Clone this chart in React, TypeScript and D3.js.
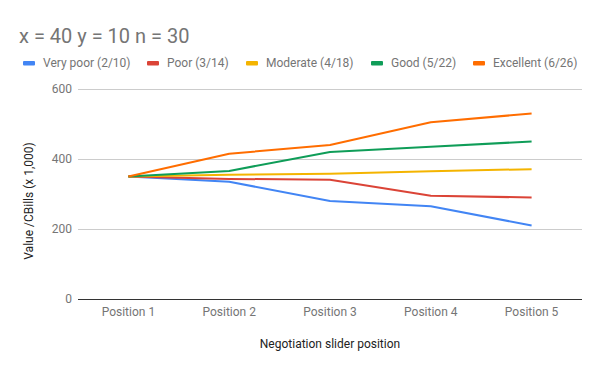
import React, { useEffect, useRef } from 'react';
import * as d3 from 'd3';

const positions = ['Position 1', 'Position 2', 'Position 3', 'Position 4', 'Position 5'];
const seriesNames = ['Very poor (2/10)', 'Poor (3/14)', 'Moderate (4/18)', 'Good (5/22)', 'Excellent (6/26)'];
const seriesColors = ['#4285F4', '#DB4437', '#F4B400', '#0F9D58', '#FF6D00'];
const veryPoor = [350, 335, 280, 265, 210];
const poor = [350, 343, 341, 295, 290];
const moderate = [350, 355, 358, 365, 371];
const good = [350, 366, 420, 435, 450];
const excellent = [350, 415, 440, 505, 530];
const yTicks = [0, 200, 400, 600];

const App: React.FC = () => {
  const ref = useRef<SVGSVGElement>(null);

  useEffect(() => {
    if (!ref.current) return;
    const width = 600;
    const height = 371;
    const margin = { top: 89, right: 18, bottom: 72, left: 78 };
    const font = 'Roboto, Arial, sans-serif';

    const svg = d3.select(ref.current);
    svg.selectAll('*').remove();

    const values = [veryPoor, poor, moderate, good, excellent];

    // point scale with half-step padding = centre of each category band
    const x = d3.scalePoint<string>()
      .domain(positions)
      .range([margin.left, width - margin.right])
      .padding(0.5);

    const y = d3.scaleLinear()
      .domain([0, 600])
      .range([height - margin.bottom, margin.top]);

    svg.append('rect').attr('width', width).attr('height', height).attr('fill', '#fff');

    // title
    svg.append('text')
      .attr('x', 19)
      .attr('y', 43)
      .attr('font-family', font)
      .attr('font-size', 20)
      .attr('fill', '#757575')
      .text('x = 40 y = 10 n = 30');

    // legend (hand placed like google charts does it)
    const legendX = [23, 147, 246, 371, 473];
    const legend = svg.append('g')
      .selectAll('g')
      .data(seriesNames)
      .join('g')
      .attr('transform', (d, i) => `translate(${legendX[i]},63)`);

    legend.append('rect')
      .attr('y', -2)
      .attr('width', 12)
      .attr('height', 4.5)
      .attr('rx', 1)
      .attr('fill', (d, i) => seriesColors[i]);

    legend.append('text')
      .attr('x', 20)
      .attr('dy', '0.35em')
      .attr('font-family', font)
      .attr('font-size', 12)
      .attr('fill', '#757575')
      .text(d => d);

    // grid
    svg.append('g')
      .selectAll('line')
      .data(yTicks.filter(t => t !== 0))
      .join('line')
      .attr('x1', margin.left)
      .attr('x2', width - margin.right)
      .attr('y1', d => Math.round(y(d)) + 0.5)
      .attr('y2', d => Math.round(y(d)) + 0.5)
      .attr('stroke', '#cccccc');

    svg.append('g')
      .selectAll('text')
      .data(yTicks)
      .join('text')
      .attr('x', margin.left - 6)
      .attr('y', d => y(d))
      .attr('dy', '0.35em')
      .attr('text-anchor', 'end')
      .attr('font-family', font)
      .attr('font-size', 12)
      .attr('fill', '#757575')
      .text(d => d);

    // lines
    const line = d3.line<number>()
      .x((d, i) => x(positions[i]) as number)
      .y(d => y(d));

    svg.append('g')
      .selectAll('path')
      .data(values)
      .join('path')
      .attr('fill', 'none')
      .attr('stroke', (d, i) => seriesColors[i])
      .attr('stroke-width', 2)
      .attr('stroke-linejoin', 'round')
      .attr('d', line);

    // baseline
    svg.append('line')
      .attr('x1', margin.left)
      .attr('x2', width - margin.right)
      .attr('y1', Math.round(y(0)) + 0.5)
      .attr('y2', Math.round(y(0)) + 0.5)
      .attr('stroke', '#333333');

    // x labels
    svg.append('g')
      .selectAll('text')
      .data(positions)
      .join('text')
      .attr('x', d => x(d) as number)
      .attr('y', height - margin.bottom + 17)
      .attr('text-anchor', 'middle')
      .attr('font-family', font)
      .attr('font-size', 12)
      .attr('fill', '#757575')
      .text(d => d);

    // axis titles
    svg.append('text')
      .attr('x', (margin.left + width - margin.right) / 2)
      .attr('y', 348)
      .attr('text-anchor', 'middle')
      .attr('font-family', font)
      .attr('font-size', 12)
      .attr('fill', '#222222')
      .text('Negotiation slider position');

    svg.append('text')
      .attr('transform', `translate(33,201) rotate(-90)`)
      .attr('text-anchor', 'middle')
      .attr('font-family', font)
      .attr('font-size', 12)
      .attr('fill', '#222222')
      .text('Value /CBills (x 1,000)');
  }, []);

  return (
    <svg ref={ref} width={600} height={371}
      style={{ position: 'absolute', left: 0, top: 0, display: 'block' }} />
  );
};

export default App;
